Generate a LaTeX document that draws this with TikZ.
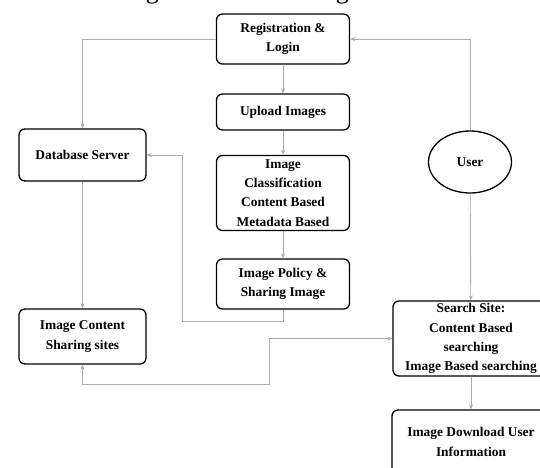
\documentclass[tikz,border=0pt]{standalone}
\usepackage{fontspec}
\setmainfont{Liberation Serif}
\usetikzlibrary{arrows.meta, shapes.geometric}

\begin{document}
\begin{tikzpicture}[x=1pt, y=-1pt,
    box/.style={draw, rounded corners=6pt, line width=1.3pt, align=center, inner sep=0pt,
      font=\bfseries\fontsize{13.4}{19.3}\selectfont},
    flow/.style={draw=gray!65, line width=0.9pt, -{Stealth[length=5pt,width=4pt]}}]
    \useasboundingbox (0,0) rectangle (540,467);
    \node[anchor=base east, inner sep=0pt, font=\fontsize{26}{30}\selectfont] (cap) at (367,-2) {o form the signature of the image.};
    % middle column
    \node[box, minimum width=133, minimum height=50] (reg) at (283,39) {Registration \&\\Login};
    \node[box, minimum width=133, minimum height=36] (upl) at (283,112) {Upload Images};
    \node[box, minimum width=133, minimum height=75] (cls) at (283,193) {Image\\Classification\\Content Based\\Metadata Based};
    \node[box, minimum width=133, minimum height=50] (pol) at (283,284) {Image Policy \&\\Sharing Image};
    % left column
    \node[box, minimum width=127, minimum height=52] (db) at (82.5,155) {Database Server};
    \node[box, minimum width=127, minimum height=55] (ics) at (82.5,336.5) {Image Content\\Sharing sites};
    % right column
    \node[box, ellipse, rounded corners=0pt, minimum width=83, minimum height=62] (usr) at (470,162) {User};
    \node[box, minimum width=156, minimum height=75] (srch) at (471,338.5) {Search Site:\\Content Based\\searching\\Image Based searching};
    \node[box, minimum width=158, minimum height=64] (dl) at (471,442) {Image Download User\\Information};
    \coordinate (bendA) at (182,321);
    \coordinate (bendB) at (269,384);
    % down the middle
    \draw[flow] (reg) -- (upl);
    \draw[flow] (upl) -- (cls);
    \draw[flow] (cls) -- (pol);
    % left side
    \draw[flow] (reg.west) -| (db.north);
    \draw[flow] (db) -- (ics);
    \draw[flow] (pol.south) |- (bendA) |- (db.east);
    % right side
    \draw[flow] (usr.north) |- (reg.east);
    \draw[flow] (usr) -- (srch);
    \draw[flow] (srch) -- (dl);
    % both ways
    \draw[flow, {Stealth[length=5pt,width=4pt]}-{Stealth[length=5pt,width=4pt]}] (ics.south) |- (bendB) |- (srch.west);
\end{tikzpicture}
\end{document}
